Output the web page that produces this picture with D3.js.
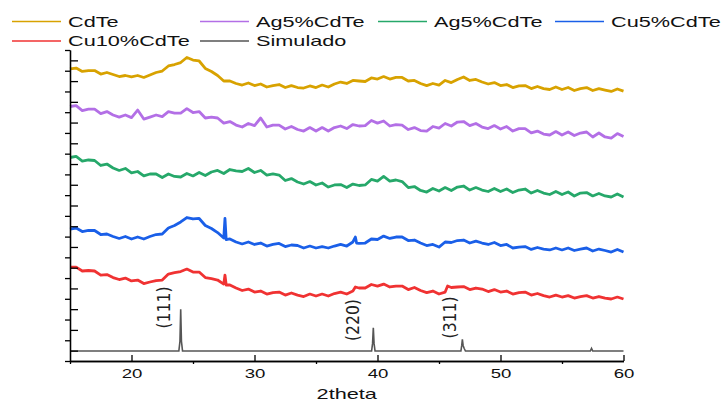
<!DOCTYPE html>
<html><head><meta charset="utf-8">
<script src="https://cdn.jsdelivr.net/npm/d3@7"></script>
<style>body{margin:0;background:#fff}svg{display:block}</style>
</head><body><svg id="c" width="727" height="402"></svg>
<script>
// ---------- DATA ----------
const twoTheta = d3.range(0, 91).map(i => 15 + i * 0.5);
const legendLabels = ["CdTe", "Ag5%CdTe", "Ag5%CdTe", "Cu5%CdTe", "Cu10%CdTe", "Simulado"];
const xTickLabels = [20, 30, 40, 50, 60];
const xMinorTicks = [15, 25, 35, 45, 55];

const cdte = [28.17,28.26,27.93,28.02,28.02,27.68,27.83,27.64,27.44,27.54,
27.40,27.54,27.35,27.59,27.83,27.97,28.46,28.60,28.79,29.28,
29.03,28.94,28.22,27.93,27.54,27.01,27.01,26.77,26.62,26.82,
26.57,26.72,26.43,26.57,26.67,26.38,26.57,26.38,26.33,26.53,
26.38,26.62,26.43,26.72,26.91,26.77,27.06,27.01,26.96,27.30,
27.20,27.44,27.20,27.35,27.35,27.01,27.06,26.77,26.57,26.77,
26.62,27.06,26.86,27.16,27.40,27.06,27.16,26.91,26.72,26.86,
26.57,26.67,26.38,26.53,26.57,26.28,26.48,26.28,26.19,26.43,
26.19,26.38,26.09,26.28,26.38,26.09,26.28,26.14,26.00,26.24,26.04];

const ag5a = [24.55,24.64,24.16,24.30,24.30,23.87,24.06,23.73,23.53,23.73,
23.48,24.21,23.34,23.53,23.73,23.58,24.06,23.92,23.92,24.35,
23.97,24.06,23.44,23.53,23.44,22.95,23.10,22.76,22.57,22.91,
22.71,23.44,22.57,22.76,22.76,22.38,22.62,22.33,22.18,22.52,
22.18,22.52,22.18,22.52,22.67,22.42,22.81,22.67,22.71,23.20,
22.95,23.15,22.67,22.81,22.76,22.33,22.52,22.23,22.18,22.62,
22.47,22.91,22.67,23.05,23.10,22.71,22.91,22.57,22.42,22.71,
22.38,22.62,22.18,22.42,22.42,22.00,22.18,21.89,21.80,22.13,
21.80,22.09,21.75,21.99,22.09,21.61,21.99,21.61,21.51,21.94,21.65];

const ag5b = [19.63,19.73,19.29,19.39,19.34,18.86,19.00,18.62,18.38,18.57,
18.14,18.28,17.85,18.04,18.04,17.70,18.04,17.80,17.75,18.09,
17.85,18.18,17.89,18.23,18.38,18.09,18.47,18.33,18.28,18.57,
18.18,18.38,17.94,18.04,17.94,17.41,17.60,17.27,17.07,17.31,
16.98,17.17,16.78,16.98,17.02,16.73,17.07,16.93,16.98,17.51,
17.36,17.80,17.36,17.46,17.31,16.73,16.83,16.45,16.30,16.64,
16.40,16.73,16.45,16.78,16.88,16.49,16.73,16.49,16.35,16.64,
16.35,16.59,16.25,16.49,16.59,16.20,16.45,16.20,16.06,16.35,
16.06,16.30,15.92,16.20,16.25,15.92,16.16,15.92,15.82,16.11,15.82];

const cu5 = [12.73,12.83,12.49,12.59,12.59,12.20,12.25,12.01,11.82,12.01,
11.77,11.96,11.77,12.01,12.20,12.25,12.83,13.07,13.41,13.84,
13.70,13.75,13.07,12.78,12.39,11.86,11.77,11.48,11.29,11.48,
11.24,11.38,11.09,11.24,11.34,11.04,11.19,11.14,10.90,11.09,
10.90,11.04,10.90,11.09,11.24,11.09,11.48,11.34,11.38,11.77,
11.72,12.05,11.82,11.96,11.96,11.62,11.67,11.38,11.14,11.24,
10.99,11.48,11.43,11.62,11.67,11.38,11.57,11.38,11.24,11.43,
11.14,11.24,10.90,10.99,11.04,10.76,10.95,10.80,10.71,10.90,
10.71,10.90,10.66,10.80,10.90,10.61,10.80,10.66,10.51,10.76,10.51];
const cu5Spikes = [[27.6,13.75],[27.7,11.70],[38.2,11.96],[38.3,11.38]];

const cu10 = [9.06,9.06,8.68,8.73,8.68,8.29,8.34,8.05,7.86,8.00,
7.72,7.81,7.47,7.62,7.76,7.81,8.39,8.53,8.63,8.87,
8.58,8.58,8.05,7.95,7.81,7.42,7.33,7.04,6.80,6.94,
6.65,6.75,6.46,6.60,6.65,6.36,6.56,6.36,6.22,6.46,
6.27,6.46,6.27,6.51,6.65,6.46,6.75,7.04,7.04,7.38,
7.23,7.42,7.14,7.23,7.23,6.89,7.09,6.80,6.60,6.75,
6.46,6.65,7.09,7.14,7.18,6.89,7.04,6.94,6.70,6.89,
6.65,6.75,6.46,6.60,6.65,6.36,6.51,6.31,6.17,6.36,
6.17,6.31,6.07,6.22,6.31,6.07,6.22,6.07,5.98,6.17,5.98];
const cu10Spikes = [[27.6,8.29],[27.7,7.33],[38.2,7.14],[45.7,7.23]];

const simulado = [[15,0.96],[23.85,0.96],[23.94,1.9],[24.0,4.99],[24.06,1.9],[24.15,0.96],
[39.52,0.96],[39.6,1.7],[39.66,3.21],[39.72,1.7],[39.8,0.96],
[46.78,0.96],[46.85,1.5],[46.9,2.10],[46.96,1.5],[47.05,1.2],[47.15,0.96],
[57.3,0.96],[57.4,1.21],[57.5,0.96],[60,0.96]];

const peakLabels = ["(111)", "(220)", "(311)"];
const peakLabelTheta = [22.65, 37.95, 45.9];
const peakLabelLevel = [5.16, 3.95, 4.2];

// ---------- CHART ----------
const SX = 1.55; // horizontal glyph stretch of the original image
const svg = d3.select("#c");
const x = d3.scaleLinear().domain([15, 60]).range([70, 623.5]);
const y = d3.scaleLinear().domain([0, 30]).range([361, 50]);
const line = d3.line().x(d => x(d[0])).y(d => y(d[1]));

const series = [
  {values: cdte, spikes: [], color: "#d8a200"},
  {values: ag5a, spikes: [], color: "#b36fe6"},
  {values: ag5b, spikes: [], color: "#26a86a"},
  {values: cu5, spikes: cu5Spikes, color: "#1a5fe8"},
  {values: cu10, spikes: cu10Spikes, color: "#f03232"}
];
const colors = series.map(s => s.color).concat(["#555555"]);

series.forEach(s => {
  const pts = twoTheta.map((t, i) => [t, s.values[i]]).concat(s.spikes).sort((a, b) => a[0] - b[0]);
  svg.append("path").attr("d", line(pts)).attr("fill", "none")
    .attr("stroke", s.color).attr("stroke-width", 2.8).attr("stroke-linejoin", "round");
});
svg.append("path").attr("d", line(simulado)).attr("fill", "none")
  .attr("stroke", "#555").attr("stroke-width", 1.6);

// axes
function styleAxis(g) {
  g.selectAll("path.domain").attr("stroke", "#000").attr("stroke-width", 1.3);
  g.selectAll(".tick line").attr("stroke", "#000").attr("stroke-width", 1.3);
}
const gxMinor = svg.append("g").attr("transform", "translate(0,361)")
  .call(d3.axisBottom(x).tickValues(xMinorTicks).tickSize(3).tickSizeOuter(0).tickFormat(""));
const gx = svg.append("g").attr("transform", "translate(0,361)")
  .call(d3.axisBottom(x).tickValues(xTickLabels).tickSize(-6).tickSizeOuter(0).tickFormat(d3.format("d")));
[gxMinor, gx].forEach(styleAxis);
gx.selectAll("text").attr("y", 17).attr("dy", null)
  .attr("transform", `scale(${SX},1)`)
  .attr("font-family", "Liberation Sans, Arial, sans-serif").attr("font-size", 12).attr("fill", "#111");

const yTicks = d3.range(0, 31);
const gyOut = svg.append("g").attr("transform", "translate(70,0)")
  .call(d3.axisLeft(y).tickValues(yTicks.filter(v => v % 2 === 0)).tickSize(5).tickSizeOuter(0).tickFormat(""));
const gyIn = svg.append("g").attr("transform", "translate(70,0)")
  .call(d3.axisLeft(y).tickValues(yTicks.filter(v => v % 2 === 1)).tickSize(-8).tickSizeOuter(0).tickFormat(""));
[gyOut, gyIn].forEach(styleAxis);

svg.append("text").text("2theta")
  .attr("transform", `translate(${(x.range()[0] + x.range()[1]) / 2},399) scale(${SX},1)`)
  .attr("text-anchor", "middle").attr("font-family", "Liberation Sans, Arial, sans-serif")
  .attr("font-size", 14).attr("fill", "#111");

// peak labels
peakLabels.forEach((t, i) => {
  svg.append("text").text(t)
    .attr("transform", `translate(${x(peakLabelTheta[i])},${y(peakLabelLevel[i])}) scale(1.4,1) rotate(-90)`)
    .attr("text-anchor", "middle").attr("dominant-baseline", "central")
    .attr("font-family", "DejaVu Sans, sans-serif").attr("font-size", 13)
    .attr("textLength", 42).attr("lengthAdjust", "spacingAndGlyphs").attr("fill", "#222");
});

// legend
const legendSlots = [[12, 21.5], [200, 21.5], [378, 21.5], [555, 21.5], [12, 41], [200, 41]];
legendLabels.forEach((lab, i) => {
  const [lx, ly] = legendSlots[i];
  svg.append("line").attr("x1", lx).attr("x2", lx + 49).attr("y1", ly).attr("y2", ly)
    .attr("stroke", colors[i]).attr("stroke-width", 1.5);
  svg.append("text").text(lab)
    .attr("transform", `translate(${lx + 56},${ly + 5.2}) scale(${SX},1)`)
    .attr("font-family", "Liberation Sans, Arial, sans-serif").attr("font-size", 14).attr("fill", "#111");
});
</script></body></html>
